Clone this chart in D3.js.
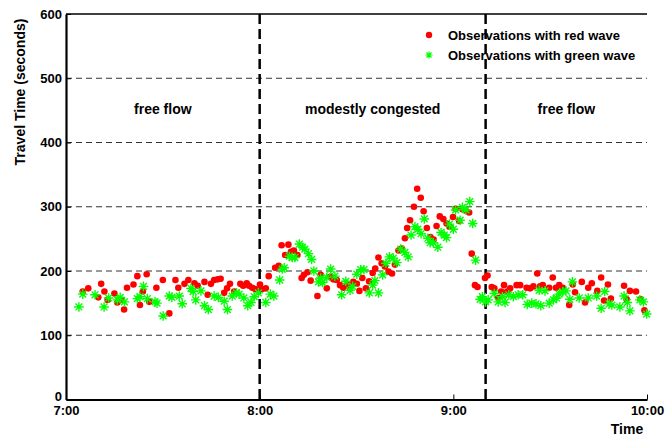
<!DOCTYPE html>
<html>
<head>
<meta charset="utf-8">
<script src="https://cdn.jsdelivr.net/npm/d3@7/dist/d3.min.js"></script>
<style>
  html, body { margin: 0; padding: 0; background: #fff; }
  svg text { font-family: "Liberation Sans", Arial, sans-serif; font-weight: bold; fill: #000; }
</style>
</head>
<body>
<svg id="chart" width="665" height="437"></svg>
<script>
// Minutes after 7:00 and travel time (s) for runs that met a red wave
const redMinutes = [5.2,6.9,10.0,10.9,11.9,12.9,15.0,15.9,17.0,18.0,18.9,20.9,22.1,22.9,23.8,25.0,25.8,28.0,30.0,32.0,33.9,34.8,36.7,37.9,39.8,40.8,42.9,43.9,44.9,45.9,47.0,47.9,49.0,49.9,50.8,52.1,54.0,54.9,56.0,56.7,57.7,58.6,60.1,60.8,61.9,62.8,64.8,65.9,66.8,67.9,68.9,69.7,70.6,71.7,73.0,73.7,74.8,75.8,77.9,78.9,80.8,81.8,82.8,83.9,84.9,85.9,87.2,88.0,89.0,90.1,90.9,91.8,92.9,93.9,95.0,95.8,96.8,97.8,98.8,99.9,101.0,101.9,103.0,104.0,105.0,105.7,106.6,107.8,108.8,109.9,110.8,111.8,112.9,113.9,114.8,115.8,116.9,117.9,118.8,119.9,120.7,121.8,122.8,123.8,124.9,125.7,126.7,127.5,129.8,130.6,131.9,132.7,133.9,134.8,135.7,136.7,137.6,139.6,140.7,142.7,143.8,144.8,146.0,146.9,147.7,149.7,150.8,151.8,152.8,153.9,155.9,157.0,157.7,159.8,160.8,161.8,162.9,164.6,165.8,166.7,167.9,168.8,172.9,173.7,174.7,176.6,178.0,179.2];
const redTravel = [168,173,159,180,168,155,165,151,155,140,174,179,192,147,168,195,152,174,186,134,186,174,180,186,181,177,183,163,180,186,187,188,166,173,180,168,180,177,181,177,174,172,179,172,173,192,205,208,240,225,241,230,232,225,189,194,198,185,161,194,173,191,187,186,178,174,178,174,183,180,169,189,173,184,197,204,221,212,207,199,196,210,232,235,251,267,279,300,328,314,293,267,253,249,270,285,281,274,269,284,297,278,296,294,291,227,178,175,189,193,175,173,158,168,178,168,173,178,178,174,173,176,196,176,178,174,190,174,178,174,147,179,167,183,151,174,181,169,190,154,179,157,177,156,169,168,156,139];

// Minutes after 7:00 and travel time (s) for runs that met a green wave
const greenMinutes = [4.0,5.2,9.0,11.8,13.2,15.9,16.8,18.1,22.1,22.9,24.0,25.2,27.6,28.2,30.1,32.0,32.8,35.1,36.0,38.7,39.4,40.2,41.8,42.9,44.1,45.9,47.2,49.0,50.0,51.5,52.8,53.6,55.1,56.3,57.3,58.3,59.6,61.9,63.3,64.4,66.2,67.0,67.6,69.2,70.1,70.9,72.3,73.3,74.0,75.1,76.1,76.8,78.2,78.9,79.5,80.8,82.0,83.3,85.4,86.7,88.0,88.8,90.1,91.3,92.3,94.0,95.0,95.7,96.8,98.1,99.1,100.2,101.4,102.5,103.7,105.0,106.0,106.9,108.1,109.0,110.0,111.0,112.1,112.8,113.8,115.2,116.2,117.2,117.9,118.8,120.0,120.7,122.1,122.8,123.9,125.1,126.0,126.9,128.3,129.0,130.0,130.8,132.7,133.9,135.2,136.0,137.2,138.6,140.1,141.5,142.9,144.3,145.6,146.6,147.1,148.4,149.7,151.0,152.0,152.8,153.9,154.9,156.1,156.9,159.0,161.8,164.4,165.8,166.9,168.3,169.1,171.6,172.9,173.9,174.7,177.8,178.9,179.9];
const greenTravel = [144,164,163,144,158,155,159,152,157,160,176,157,152,150,130,161,159,161,149,173,168,155,169,146,140,161,159,153,140,161,166,164,158,146,151,160,166,151,164,161,186,203,205,223,221,221,242,237,234,227,218,200,183,189,182,190,203,192,163,184,170,176,195,202,202,166,178,185,166,194,212,222,220,213,234,229,222,256,269,265,258,281,251,244,244,237,260,256,252,273,265,295,279,299,295,308,274,217,156,160,152,155,165,152,160,151,163,160,163,163,148,150,149,170,146,169,150,155,158,164,168,169,156,183,158,158,161,142,168,149,147,144,161,151,138,155,152,133];

// Axis ticks and traffic-regime annotations
const yTicks = [0, 100, 200, 300, 400, 500, 600];
const gridValues = [100, 200, 300, 400, 500];
const xTickLabels = ["7:00", "8:00", "9:00", "10:00"];
const regimeBreaks = ["8:00", "9:10"];
const regimes = [
  { label: "free flow", from: "7:00", to: "8:00" },
  { label: "modestly congested", from: "8:00", to: "9:10" },
  { label: "free flow", from: "9:10", to: "10:00" }
];
const legendLabels = ["Observations with red wave", "Observations with green wave"];

const day = new Date(2000, 0, 1);
const atClock = s => { const [h, m] = s.split(":").map(Number); return new Date(2000, 0, 1, h, m); };
const atMinute = m => new Date(day.getTime() + (7 * 60 + m) * 60000);

const red = redMinutes.map((m, i) => ({ t: atMinute(m), v: redTravel[i] }));
const green = greenMinutes.map((m, i) => ({ t: atMinute(m), v: greenTravel[i] }));

const svg = d3.select("#chart");
const plotLeft = 66, plotRight = 647, plotTop = 14, plotBottom = 399.5;

const x = d3.scaleTime().domain([atClock("7:00"), atClock("10:00")]).range([plotLeft, plotRight]);
const y = d3.scaleLinear().domain([0, 600]).range([plotBottom, plotTop]);

// dashed horizontal grid
svg.append("g").selectAll("line").data(gridValues).join("line")
  .attr("x1", plotLeft).attr("x2", plotRight)
  .attr("y1", d => y(d)).attr("y2", d => y(d))
  .attr("stroke", "#333").attr("stroke-width", 1).attr("stroke-dasharray", "6,4");

// regime boundaries
svg.append("g").selectAll("line").data(regimeBreaks).join("line")
  .attr("x1", d => x(atClock(d))).attr("x2", d => x(atClock(d)))
  .attr("y1", plotTop).attr("y2", plotBottom)
  .attr("stroke", "#000").attr("stroke-width", 2.5).attr("stroke-dasharray", "10,5");

// regime labels
svg.append("g").selectAll("text").data(regimes).join("text")
  .attr("x", d => (x(atClock(d.from)) + x(atClock(d.to))) / 2)
  .attr("y", 114)
  .attr("text-anchor", "middle").attr("font-size", 14)
  .text(d => d.label);

// observations
const starPath = r => {
  const k = r * 0.7071;
  return `M${-r},0H${r}M0,${-r}V${r}M${-k},${-k}L${k},${k}M${-k},${k}L${k},${-k}`;
};

svg.append("g").selectAll("circle").data(red).join("circle")
  .attr("cx", d => x(d.t)).attr("cy", d => y(d.v)).attr("r", 3.3)
  .attr("fill", "#ff0000");

svg.append("g").selectAll("path").data(green).join("path")
  .attr("transform", d => `translate(${x(d.t)},${y(d.v)})`)
  .attr("d", starPath(4.8))
  .attr("stroke", "#00ff00").attr("stroke-width", 1.4).attr("fill", "none");

// axes
const xAxis = d3.axisBottom(x)
  .tickValues(xTickLabels.map(atClock))
  .tickFormat(d3.timeFormat("%-H:%M"))
  .tickSizeInner(-5).tickSizeOuter(0).tickPadding(6);
const gx = svg.append("g").attr("transform", `translate(0,${plotBottom})`).call(xAxis);
gx.select(".domain").attr("stroke-width", 2.2);
gx.selectAll(".tick line").attr("stroke-width", 1);
gx.selectAll(".tick text").attr("font-size", 13).attr("font-family", null);

const yAxis = d3.axisLeft(y).tickValues(yTicks).tickSizeInner(-5).tickSizeOuter(0).tickPadding(4);
const gy = svg.append("g").attr("transform", `translate(${plotLeft},0)`).call(yAxis);
gy.select(".domain").attr("stroke-width", 2.2);
gy.selectAll(".tick line").attr("stroke-width", 1);
gy.selectAll(".tick text").attr("font-size", 13).attr("font-family", null)
  .attr("dy", d => d === 0 ? "0.1em" : "0.32em");

// top frame line
svg.append("line").attr("x1", plotLeft).attr("x2", plotRight).attr("y1", plotTop).attr("y2", plotTop)
  .attr("stroke", "#000").attr("stroke-width", 1.5);

// axis titles
svg.append("text").attr("transform", `translate(25,92) rotate(-90)`)
  .attr("text-anchor", "middle").attr("font-size", 14).text("Travel Time (seconds)");
svg.append("text").attr("x", 627).attr("y", 434)
  .attr("text-anchor", "middle").attr("font-size", 14).text("Time");

// legend
const legend = svg.append("g");
legend.append("circle").attr("cx", 429).attr("cy", 35).attr("r", 3.2).attr("fill", "#ff0000");
legend.append("path").attr("transform", "translate(429,55)").attr("d", starPath(3.6))
  .attr("stroke", "#00ff00").attr("stroke-width", 1.2).attr("fill", "none");
legend.selectAll("text").data(legendLabels).join("text")
  .attr("x", 448).attr("y", (d, i) => 39.5 + i * 20)
  .attr("font-size", 13).text(d => d);
</script>
</body>
</html>
